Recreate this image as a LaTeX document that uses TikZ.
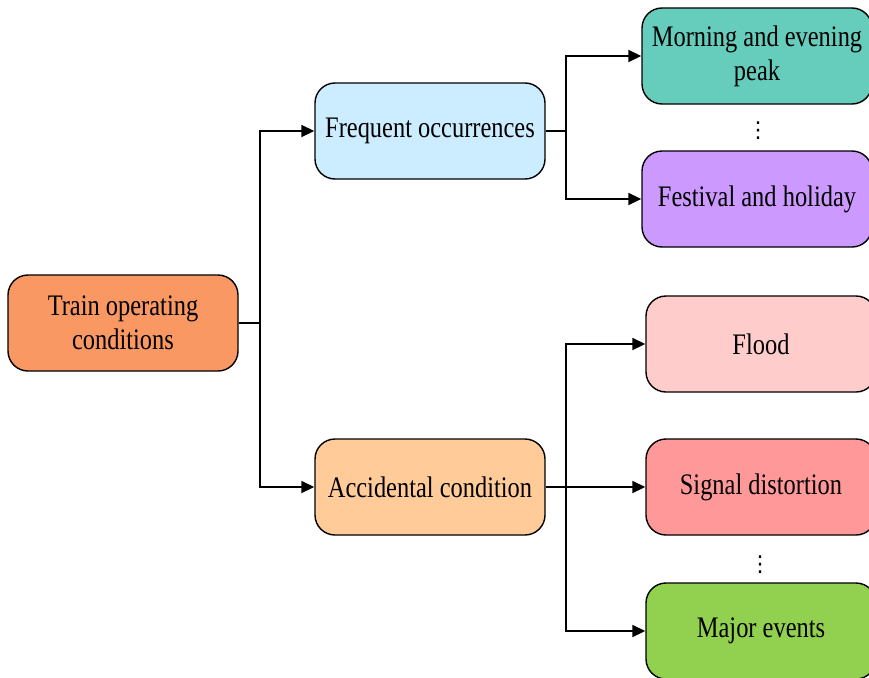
\documentclass[tikz,border=0pt]{standalone}
\usepackage{fontspec}
\setmainfont{Liberation Serif}[FakeStretch=0.82]
\newfontfamily\symfont{DejaVu Sans}
\usetikzlibrary{arrows.meta}

\definecolor{trainc}{RGB}{250,152,100}
\definecolor{freqc}{RGB}{204,236,255}
\definecolor{accic}{RGB}{255,204,153}
\definecolor{peakc}{RGB}{102,204,187}
\definecolor{festc}{RGB}{204,153,255}
\definecolor{floodc}{RGB}{255,204,204}
\definecolor{signalc}{RGB}{255,153,153}
\definecolor{majorc}{RGB}{146,208,80}

\tikzset{
    box/.style={rectangle, rounded corners=20pt, draw, line width=1.4pt,
        minimum width=230pt, minimum height=96pt, align=center,
        font=\fontsize{29.8}{34}\selectfont},
    link/.style={line width=1.8pt, -{Triangle[length=13pt,width=12pt]}},
    dotsnode/.style={font=\symfont\fontsize{22}{22}\selectfont, inner sep=0pt}
}

\begin{document}
\begin{tikzpicture}[x=1pt, y=-1pt]
    \useasboundingbox (0,0) rectangle (869,677);

    \node[box, fill=trainc] (train) at (123,323) {Train operating\\conditions};

    \node[box, fill=freqc] (freq) at (430,131) {Frequent occurrences};
    \node[box, fill=accic] (acci) at (430,487) {Accidental condition};

    \node[box, fill=peakc] (peak) at (757,56) {Morning and evening\\peak};
    \node[box, fill=festc] (fest) at (757,199) {Festival and holiday};

    \node[box, fill=floodc] (flood) at (761,344) {Flood};
    \node[box, fill=signalc] (signal) at (761,487) {Signal distortion};
    \node[box, fill=majorc] (major) at (761,631) {Major events};

    \node[dotsnode] (dotsa) at (758,131) {⋮};
    \node[dotsnode] (dotsb) at (760,565) {⋮};

    % junctions
    \coordinate (ja) at (260,323);
    \coordinate (jb) at (566,131);
    \coordinate (jc) at (566,487);

    \draw[line width=1.8pt] (train.east) -- (ja);
    \draw[link] (ja) |- (freq.west);
    \draw[link] (ja) |- (acci.west);

    \draw[line width=1.8pt] (freq.east) -- (jb);
    \draw[link] (jb) |- (peak.west);
    \draw[link] (jb) |- (fest.west);

    \draw[line width=1.8pt] (acci.east) -- (jc);
    \draw[link] (jc) |- (flood.west);
    \draw[link] (jc) -- (signal.west);
    \draw[link] (jc) |- (major.west);
\end{tikzpicture}
\end{document}
